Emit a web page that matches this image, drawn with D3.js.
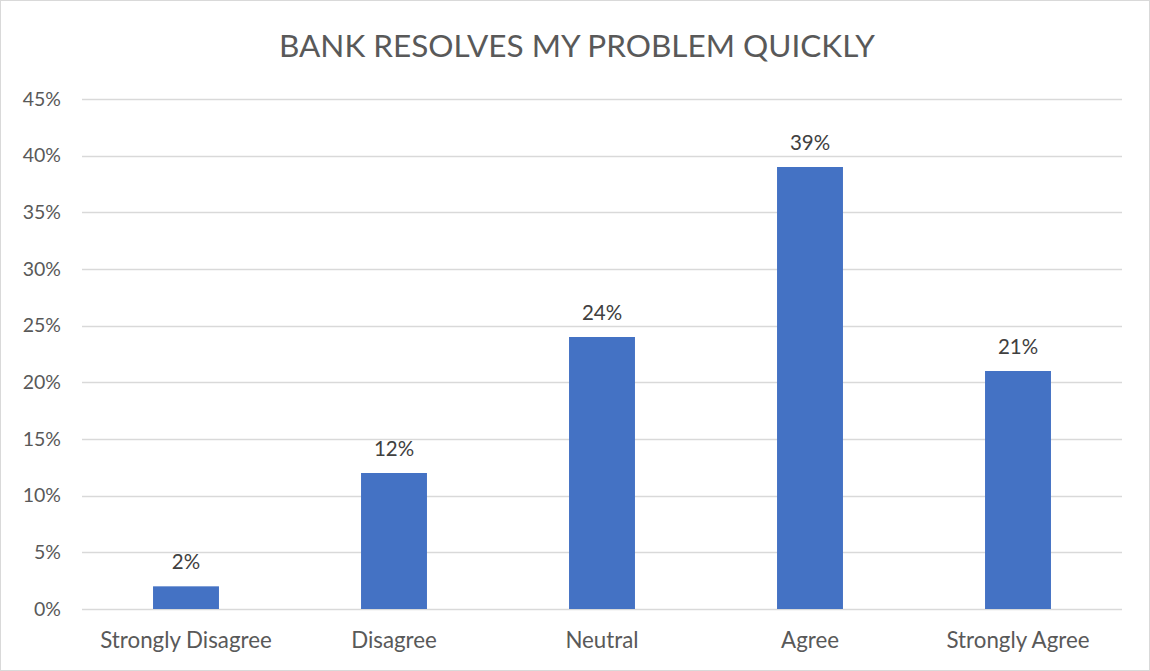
<!DOCTYPE html>
<html>
<head>
<meta charset="utf-8">
<script src="https://cdn.jsdelivr.net/npm/d3@7"></script>
<style>
  html, body { margin: 0; padding: 0; background: #fff; }
  svg { display: block; font-family: Lato, "Open Sans", sans-serif; }
</style>
</head>
<body>
<svg id="chart" width="1150" height="671"></svg>
<script>
const title = "BANK RESOLVES MY PROBLEM QUICKLY";
const categories = ["Strongly Disagree", "Disagree", "Neutral", "Agree", "Strongly Agree"];
const values = [2, 12, 24, 39, 21];
const yTicks = [0, 5, 10, 15, 20, 25, 30, 35, 40, 45];

const svg = d3.select("#chart");
const W = 1150, H = 671;
const margin = { top: 99, right: 28, bottom: 62, left: 82 };
const innerW = W - margin.left - margin.right;
const innerH = H - margin.top - margin.bottom;

// chart frame
svg.append("rect")
  .attr("x", 0.5).attr("y", 0.5)
  .attr("width", W - 1).attr("height", H - 1)
  .attr("fill", "#fff").attr("stroke", "#d9d9d9");

svg.append("text")
  .attr("x", 577).attr("y", 57)
  .attr("text-anchor", "middle")
  .attr("font-size", 31.5)
  .attr("fill", "#595959")
  .text(title);

const x = d3.scaleBand().domain(categories).range([0, innerW]).paddingInner(0.683).paddingOuter(0.3415);
const y = d3.scaleLinear().domain([0, 45]).range([innerH, 0]);

const g = svg.append("g").attr("transform", `translate(${margin.left},${margin.top})`);

// gridlines
g.append("g")
  .selectAll("line")
  .data(yTicks)
  .join("line")
  .attr("x1", 0).attr("x2", innerW)
  .attr("y1", d => Math.round(y(d)) + 0.5)
  .attr("y2", d => Math.round(y(d)) + 0.5)
  .attr("stroke", "#d9d9d9")
  .attr("stroke-width", 1.3);

// y axis labels
const yAxis = d3.axisLeft(y).tickValues(yTicks).tickFormat(d => d + "%").tickSize(0).tickPadding(21);
g.append("g").call(yAxis)
  .call(s => s.select(".domain").remove())
  .selectAll("text")
  .attr("font-size", 19.5)
  .attr("fill", "#595959")
  .attr("font-family", "Lato, 'Open Sans', sans-serif");

// bars
g.append("g")
  .selectAll("rect")
  .data(values)
  .join("rect")
  .attr("x", (d, i) => x(categories[i]))
  .attr("width", x.bandwidth())
  .attr("y", d => y(d))
  .attr("height", d => innerH - y(d))
  .attr("fill", "#4472c4");

// value labels
g.append("g")
  .selectAll("text")
  .data(values)
  .join("text")
  .attr("x", (d, i) => x(categories[i]) + x.bandwidth() / 2)
  .attr("y", d => y(d) - 17)
  .attr("text-anchor", "middle")
  .attr("font-size", 20.5)
  .attr("fill", "#404040")
  .text(d => d + "%");

// x axis labels
const xAxis = d3.axisBottom(x).tickSize(0);
g.append("g").attr("transform", `translate(0,${innerH})`).call(xAxis)
  .call(s => s.select(".domain").remove())
  .selectAll("text")
  .attr("y", 39)
  .attr("dy", 0)
  .attr("font-size", 22.3)
  .attr("fill", "#595959")
  .attr("font-family", "Lato, 'Open Sans', sans-serif");
</script>
</body>
</html>
